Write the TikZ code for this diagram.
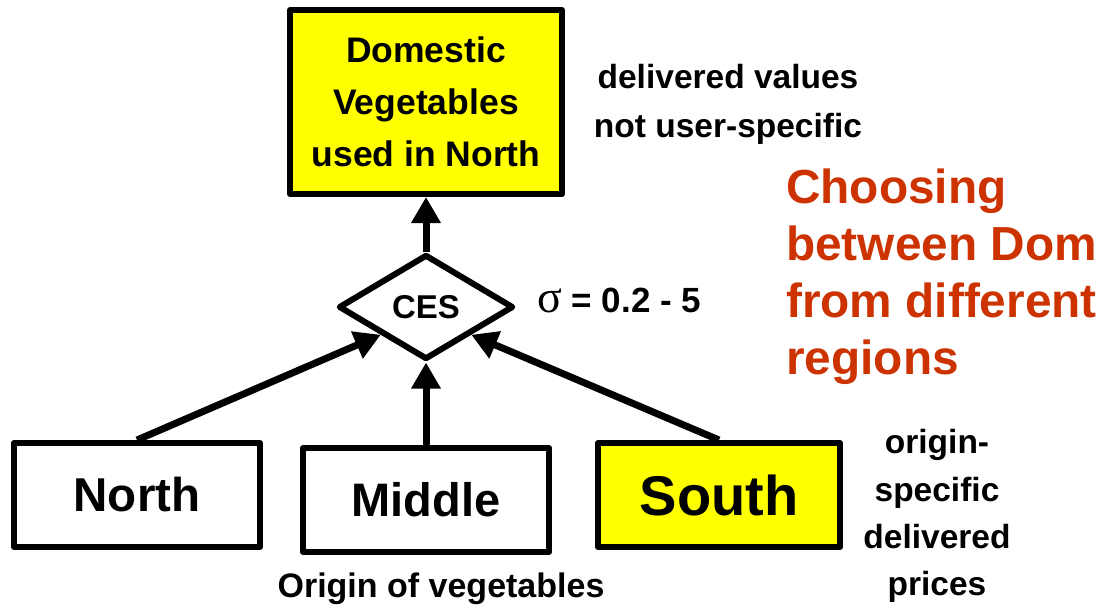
\documentclass[tikz,border=0pt]{standalone}
\usepackage{fontspec}
\setmainfont{Liberation Sans}
\newfontfamily\griechisch{Liberation Serif}
\usepackage{xcolor}
\usepackage{tikz}
\usetikzlibrary{arrows.meta}
\usetikzlibrary{shapes.geometric}
\definecolor{Gelb}{RGB}{255,255,0}
\definecolor{Rostrot}{RGB}{204,51,0}
\tikzset{
  Kasten/.style={draw,line width=6pt,line join=round,rectangle,inner sep=0pt,fill=#1}, % für Kästen
  Raute/.style={draw,line width=6pt,line join=round,diamond,inner sep=0pt,fill=white}, % für CES
  Pfeil/.style={line width=7pt,->}, % für Pfeile
  Schrift/.style={font=\fontsize{#1}{#1}\selectfont\bfseries} % Schriftgröße
}

\begin{document}
\begin{tikzpicture}[x=1pt,y=1pt,
font=\bfseries,
>={Triangle[length=26pt,width=28pt]} % Voreinstellung für Pfeilspitzen
]
\useasboundingbox (0,0) rectangle (1103,-606);

%Kästen
\node[Kasten=Gelb, minimum width=272pt, minimum height=184pt, align=center,
  font=\fontsize{35.5}{52}\selectfont\bfseries] (Dom) at (426,-102) {Domestic\\Vegetables\\used in North};
\node[Raute, minimum width=175pt, minimum height=105pt, Schrift=33] (CES) at (426,-307) {CES};

\node[Kasten=white, minimum width=246pt, minimum height=104pt, Schrift=47.5] (North) at (137,-495) {North};
\node[Kasten=white, minimum width=246pt, minimum height=104pt, Schrift=47] (Middle) at (426,-500) {Middle};
\node[Kasten=Gelb, minimum width=242pt, minimum height=104pt, Schrift=56] (South) at (719,-495) {South};

%Beschriftungen
\node[align=center, font=\fontsize{33.5}{49}\selectfont\bfseries] (Werte) at (728,-104) {delivered values\\not user-specific};
\node[anchor=base west, inner sep=0pt, Schrift=35] (Sigma) at (537,-312) {{\griechisch\mdseries\fontsize{46}{46}\selectfont σ} = 0.2 - 5};
\node[anchor=base, inner sep=0pt, Schrift=34] (Herkunft) at (441,-597) {Origin of vegetables};
\node[align=center, inner sep=0pt, font=\fontsize{33.5}{47.3}\selectfont\bfseries] (Preise) at (937,-516) {origin-\\specific\\delivered\\prices};
\node[anchor=north west, align=left, inner sep=0pt, text=Rostrot,
  font=\fontsize{47.8}{57}\selectfont\bfseries] (Titel) at (786,-169) {Choosing\\between Dom\\from different\\regions};

%Pfeile
\draw[Pfeil] (CES.north) -- (Dom.south);
\draw[Pfeil] (North.north) -- (CES.south west);
\draw[Pfeil] (Middle.north) -- (CES.south);
\draw[Pfeil] (South.north) -- (CES.south east);

\end{tikzpicture}
\end{document}
